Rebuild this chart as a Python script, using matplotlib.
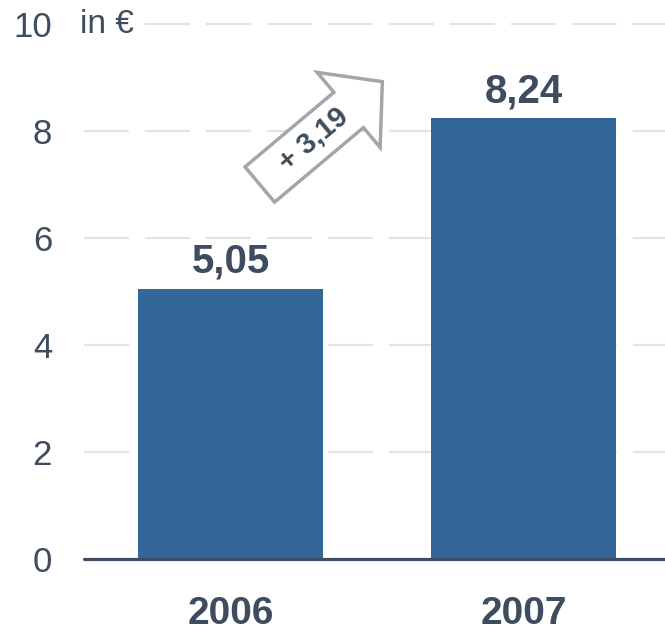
import numpy as np
import matplotlib
matplotlib.use("Agg")
import matplotlib.pyplot as plt
from matplotlib.patches import Polygon
from matplotlib.transforms import Affine2D

# ── data ────────────────────────────────────────────────
years = ['2006', '2007']
values = [5.05, 8.24]
value_labels = ['5,05', '8,24']
diff_label = '+ 3,19'
yticks = [0, 2, 4, 6, 8, 10]
unit_label = 'in €'

# ── style ───────────────────────────────────────────────
BAR = '#336699'
TXT = '#3d4c5e'
GRID = '#e3e3e3'
ARROW = '#a3a6aa'

plt.rcParams['font.family'] = ['Liberation Sans', 'DejaVu Sans']
plt.rcParams['lines.scale_dashes'] = False

fig = plt.figure(figsize=(6.65, 6.35), dpi=100)
ax = fig.add_axes([84/665, 76/635, 581/665, 535/635])

x = np.arange(len(years))
ax.bar(x, values, width=0.63, color=BAR, zorder=2)
ax.set_xlim(-0.5, 1.483)
ax.set_ylim(0, 10)

# dashed grid
for t in yticks[1:]:
    ax.axhline(t, color=GRID, lw=1.5, ls=(0, (32.4, 11.5)), zorder=1, clip_on=False)
# baseline
ax.axhline(0, color=TXT, lw=2.3, solid_capstyle='round', zorder=3, clip_on=False)

for s in ax.spines.values():
    s.set_visible(False)

ax.set_yticks(yticks)
ax.set_yticklabels([str(t) for t in yticks])
ax.tick_params(axis='y', length=0, pad=23, labelsize=25, labelcolor=TXT)
ax.set_xticks(x)
ax.set_xticklabels(years)
ax.tick_params(axis='x', length=0, pad=27, labelcolor=TXT)
for lab in ax.get_xticklabels():
    lab.set_fontweight('bold')
    lab.set_fontsize(28)

# unit label (covers first dash of top grid line)
ax.annotate(unit_label, xy=(0, 10), xycoords=('axes fraction', 'data'),
            xytext=(-4, 0), textcoords='offset pixels', ha='left', va='center',
            fontsize=24, color=TXT, zorder=5,
            bbox=dict(fc='white', ec='none', pad=1))

# value labels
for xi, v, lbl in zip(x, values, value_labels):
    ax.annotate(lbl, (xi, v), xytext=(0, 11.5), textcoords='offset points',
                ha='center', va='baseline', fontsize=29, fontweight='bold',
                color=TXT)

# difference arrow
px, py = ax.transData.transform((0.10, 7.0))
arrow_tr = Affine2D().rotate_deg(40).translate(px, py)
Lb, hw, HW, hl = 116, 23, 49, 44
shape = [(0, -hw), (Lb, -hw), (Lb, -HW), (Lb + hl, 0), (Lb, HW), (Lb, hw), (0, hw)]
arrow = Polygon(shape, closed=True, transform=arrow_tr, fc='white', ec=ARROW,
                lw=2.5, zorder=4, clip_on=False, joinstyle='miter')
ax.add_patch(arrow)
ax.text(70, 0, diff_label, transform=arrow_tr, rotation=40, rotation_mode='anchor',
        ha='center', va='center', fontsize=21, fontweight='bold', color=TXT, zorder=5)

fig.savefig('out.png', dpi=100, facecolor='white')
